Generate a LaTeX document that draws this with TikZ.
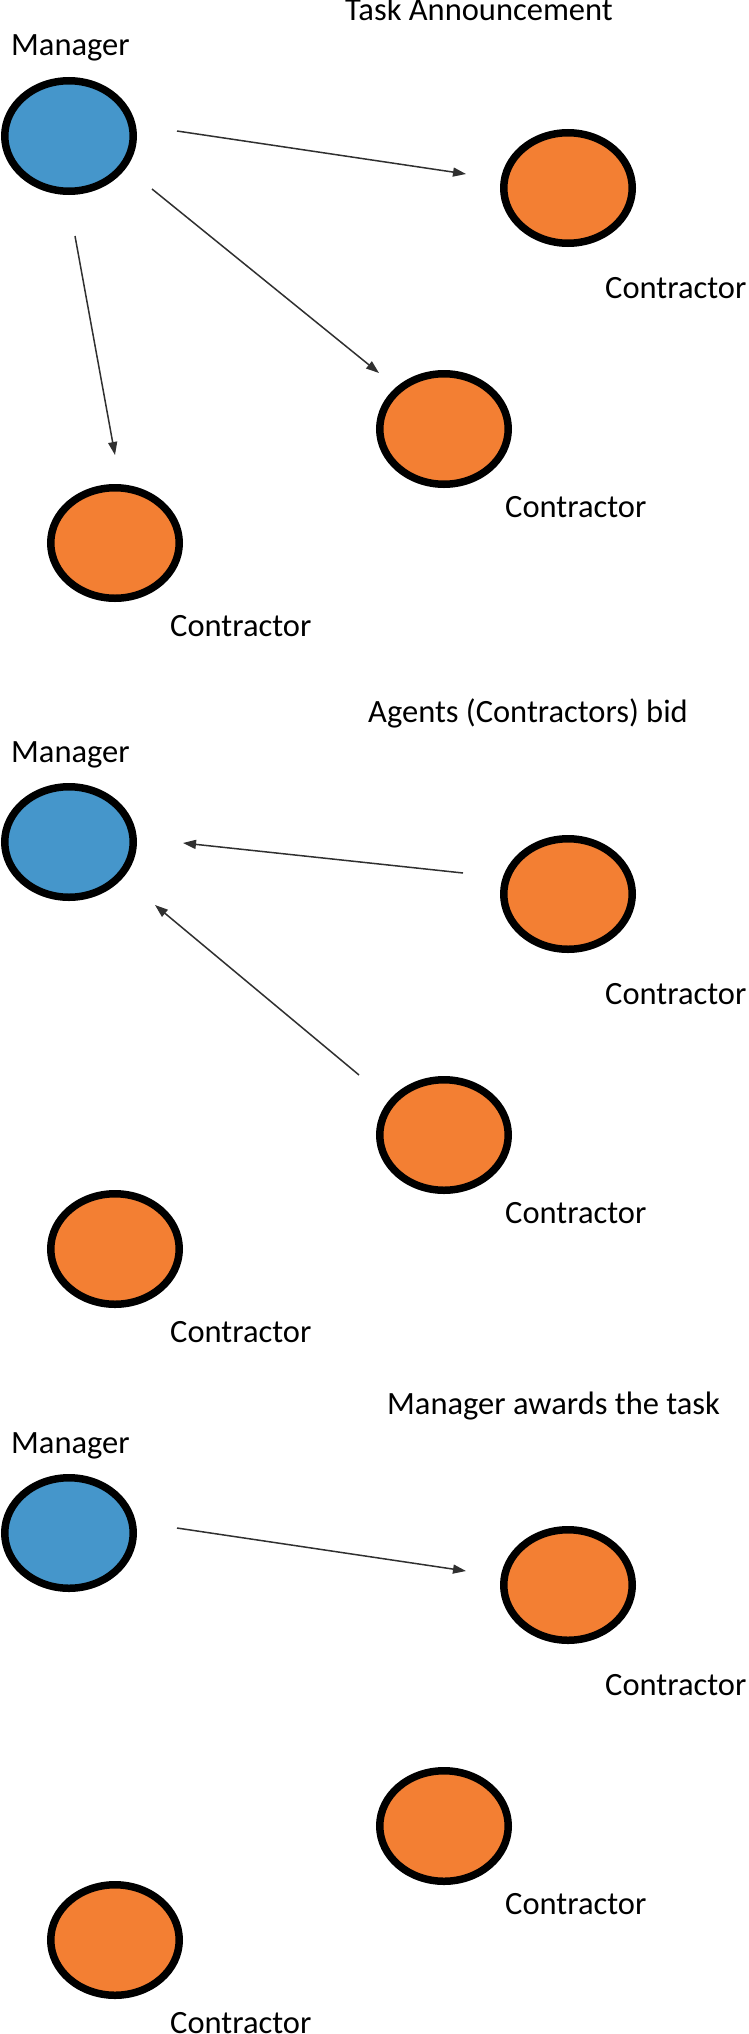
\documentclass[tikz,border=0pt]{standalone}
\usepackage{fontspec}
\setmainfont{Carlito}
\usetikzlibrary{shapes.geometric,arrows.meta}
\definecolor{mblue}{HTML}{4596CB}
\definecolor{corange}{HTML}{F37F33}
\definecolor{arrowgray}{HTML}{303030}
\begin{document}
\begin{tikzpicture}[x=1pt,y=-1pt,
  agent/.style={ellipse, draw=black, line width=7.5pt, minimum width=128.5pt, minimum height=110.5pt, inner sep=0pt},
  mgr/.style={agent, fill=mblue},
  ctr/.style={agent, fill=corange},
  lbl/.style={anchor=base west, inner sep=0pt, font=\fontsize{32.5}{39}\selectfont},
  msg/.style={draw=arrowgray, line width=1.5pt, -{Triangle[length=13pt,width=9pt]}}]
\useasboundingbox (0,0) rectangle (749,2034);

% ---------- Panel 1: Task Announcement ----------
\node[lbl] (t1) at (345,21) {Task Announcement};
\node[lbl] (ml1) at (11,56) {Manager};
\node[mgr] (m1) at (69,136) {};
\node[ctr] (c1a) at (568,188) {};
\node[ctr] (c1b) at (444,429) {};
\node[ctr] (c1c) at (115,543) {};
\node[lbl] (l1a) at (605,298) {Contractor};
\node[lbl] (l1b) at (505,517) {Contractor};
\node[lbl] (l1c) at (170,636) {Contractor};
\coordinate (p1s1) at (177,131); \coordinate (p1e1) at (466,174);
\coordinate (p1s2) at (152,189); \coordinate (p1e2) at (379,373);
\coordinate (p1s3) at (75,236);  \coordinate (p1e3) at (115,455);
\draw[msg] (p1s1) -- (p1e1);
\draw[msg] (p1s2) -- (p1e2);
\draw[msg] (p1s3) -- (p1e3);

% ---------- Panel 2: Agents bid ----------
\node[lbl] (t2) at (368,722) {Agents (Contractors) bid};
\node[lbl] (ml2) at (11,762) {Manager};
\node[mgr] (m2) at (69,842) {};
\node[ctr] (c2a) at (568,894) {};
\node[ctr] (c2b) at (444,1135) {};
\node[ctr] (c2c) at (115,1249) {};
\node[lbl] (l2a) at (605,1004) {Contractor};
\node[lbl] (l2b) at (505,1223) {Contractor};
\node[lbl] (l2c) at (170,1342) {Contractor};
\coordinate (p2s1) at (463,873); \coordinate (p2e1) at (183,843);
\coordinate (p2s2) at (359,1075); \coordinate (p2e2) at (155,905);
\draw[msg] (p2s1) -- (p2e1);
\draw[msg] (p2s2) -- (p2e2);

% ---------- Panel 3: Manager awards the task ----------
\node[lbl] (t3) at (387,1414) {Manager awards the task};
\node[lbl] (ml3) at (11,1453) {Manager};
\node[mgr] (m3) at (69,1533) {};
\node[ctr] (c3a) at (568,1585) {};
\node[ctr] (c3b) at (444,1826) {};
\node[ctr] (c3c) at (115,1940) {};
\node[lbl] (l3a) at (605,1695) {Contractor};
\node[lbl] (l3b) at (505,1914) {Contractor};
\node[lbl] (l3c) at (170,2033) {Contractor};
\coordinate (p3s1) at (177,1528); \coordinate (p3e1) at (466,1571);
\draw[msg] (p3s1) -- (p3e1);
\end{tikzpicture}
\end{document}
